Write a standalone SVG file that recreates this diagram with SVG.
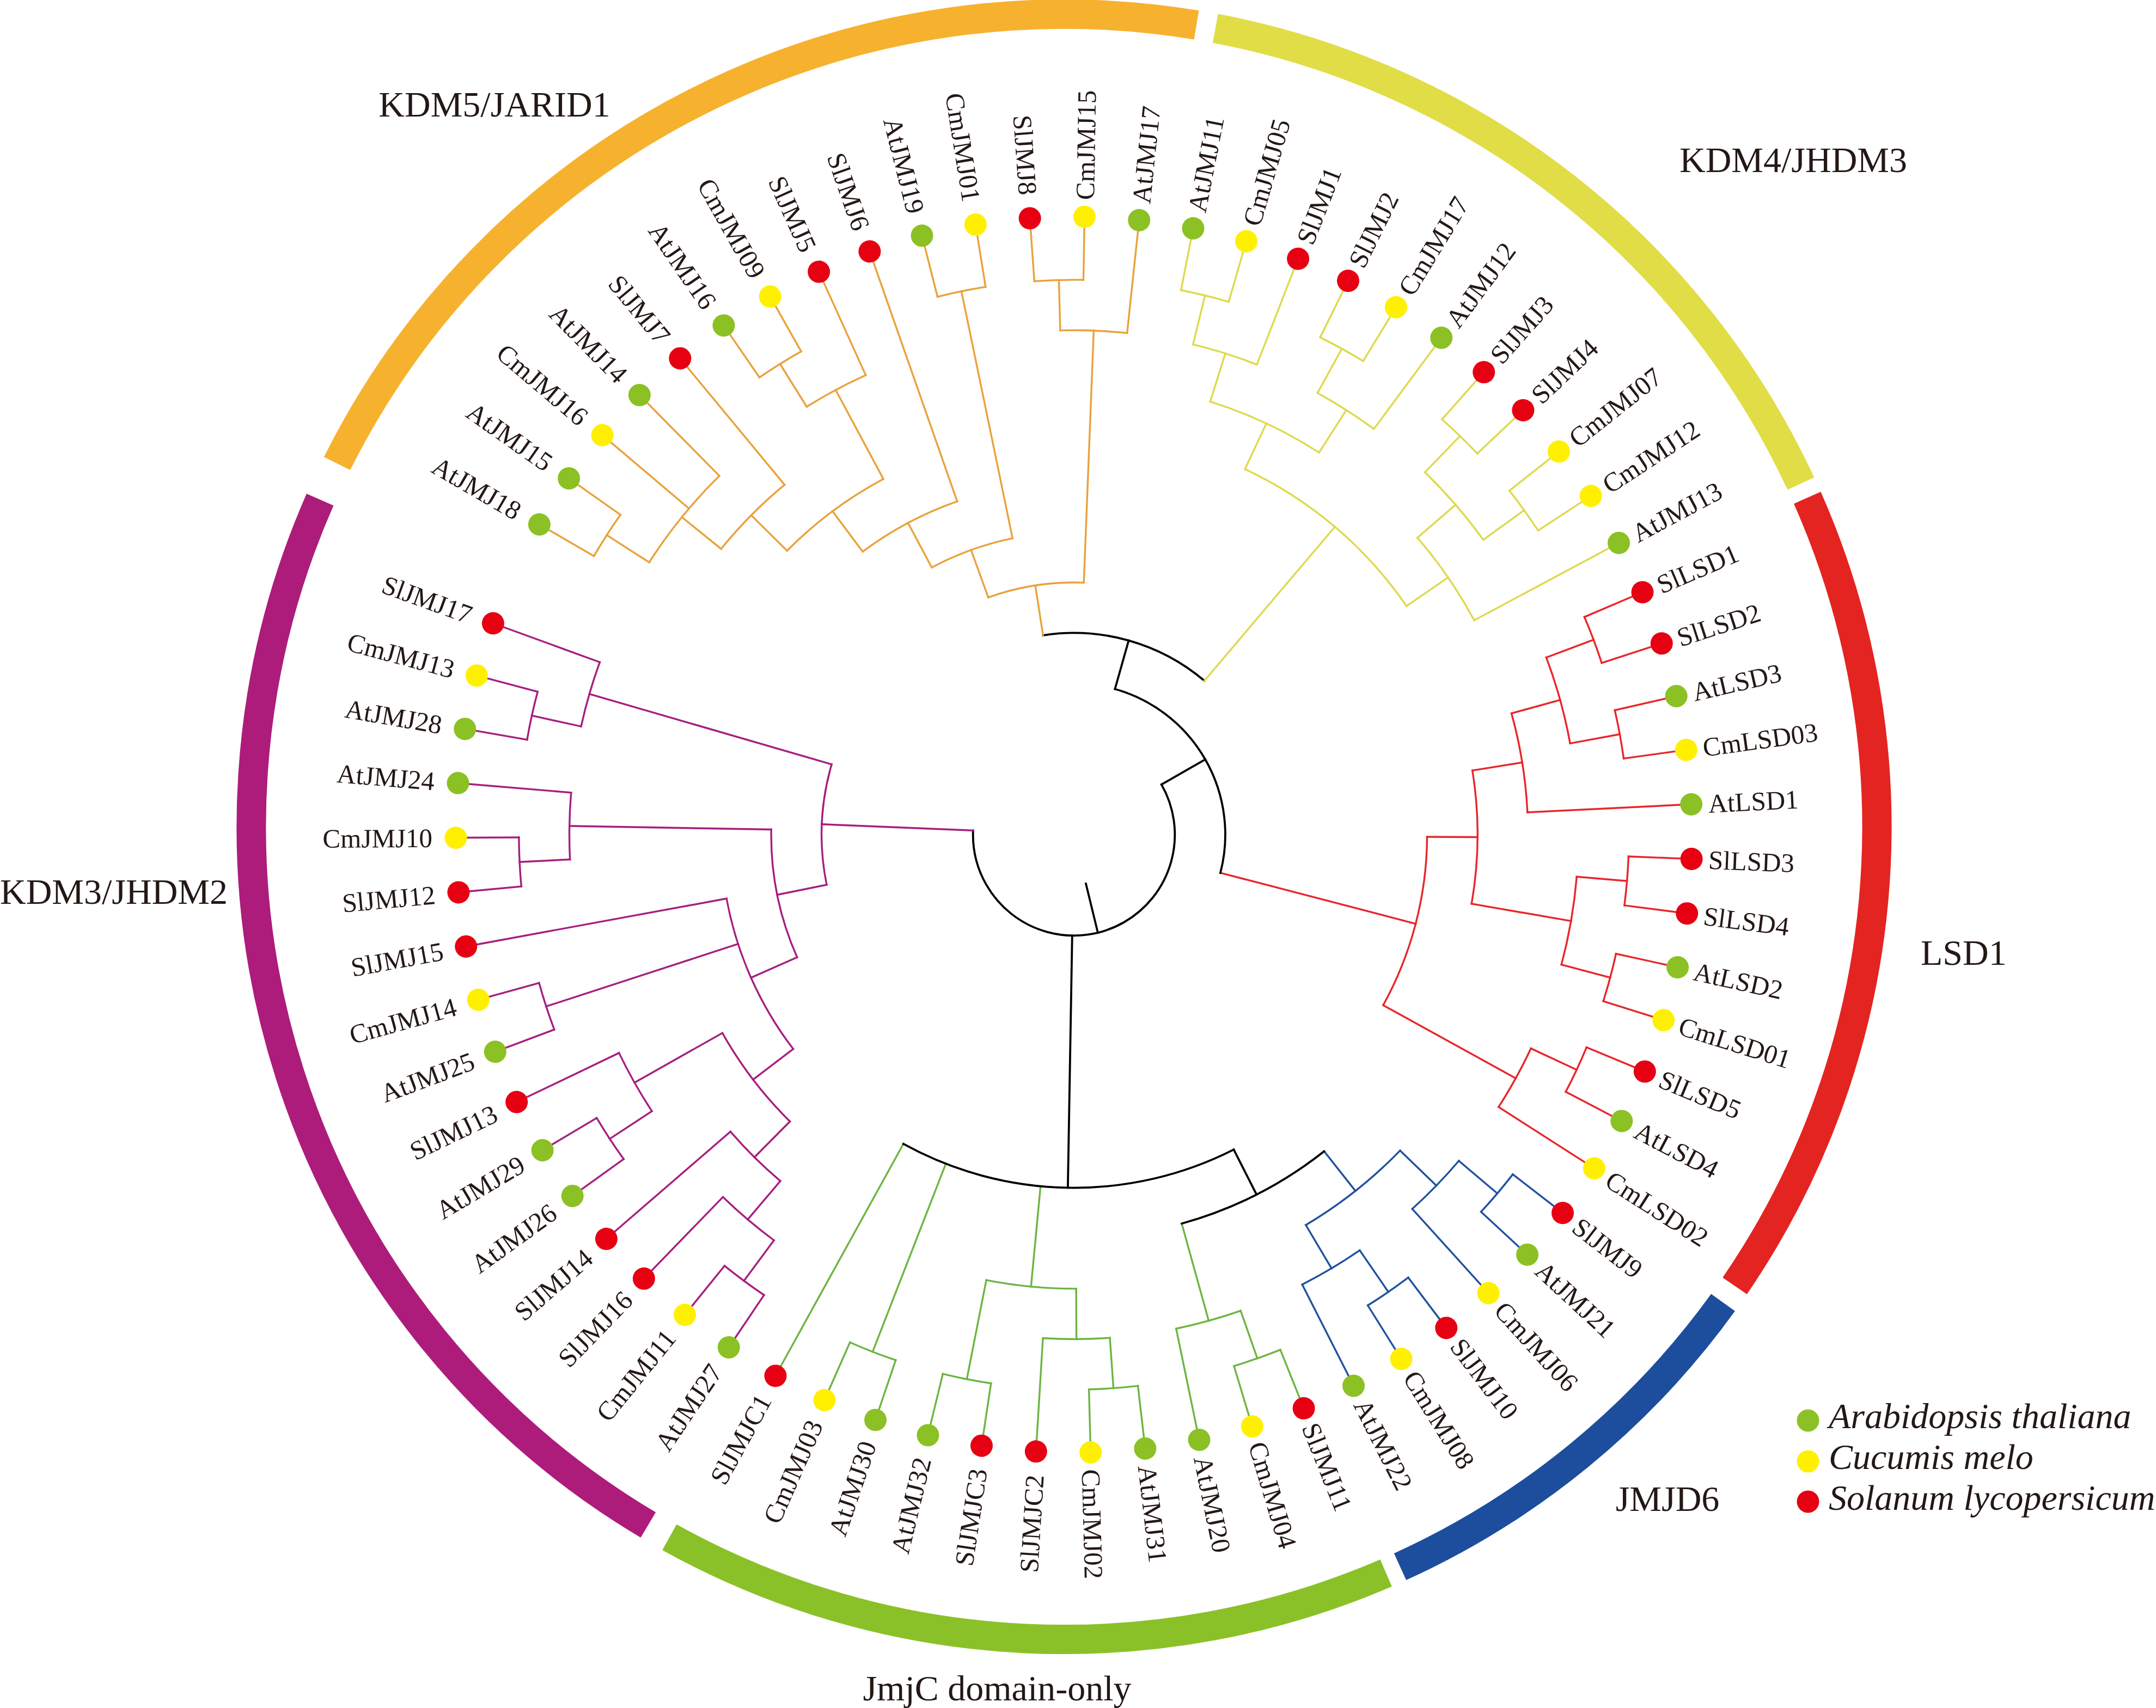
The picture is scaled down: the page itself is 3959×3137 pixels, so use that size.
<svg xmlns="http://www.w3.org/2000/svg" width="3959" height="3137" viewBox="0 0 3959 3137">
<style>
.br{fill:none;stroke-width:3.4;stroke-linecap:square}
.k{stroke:#000;stroke-width:3.8}
.o{stroke:#E9A23B}.y{stroke:#DEDA4E}.r{stroke:#E8262B}.u{stroke:#20519F}.g{stroke:#6DB543}.p{stroke:#A61F7E}
.at{fill:#8BC124}.cm{fill:#FFF000}.sl{fill:#E60012}
text{font-family:"Liberation Serif","Times New Roman",serif;fill:#231815}
.lr,.ll{font-size:49px}
.ll{text-anchor:end}
.rg{fill:none;stroke-width:54}
.t{font-size:66px}
.lg{font-size:66px;font-style:italic}
</style>
<rect width="3959" height="3137" fill="#fff"/>
<g id="ring">
<path class="rg" stroke="#E42421" d="M3318.7 914.2A1492.5 1492.5 0 0 1 3185.5 2361.7"/>
<path class="rg" stroke="#1D4D9D" d="M3164 2392.3A1492.5 1492.5 0 0 1 2571 2877.5"/>
<path class="rg" stroke="#8BC128" d="M2545.1 2889A1492.5 1492.5 0 0 1 1229.3 2823.3"/>
<path class="rg" stroke="#AD1C7B" d="M1190.3 2800.8A1492.5 1492.5 0 0 1 587.7 917.6"/>
<path class="rg" stroke="#F6B22E" d="M619 851.2A1492.5 1492.5 0 0 1 2197 45.9"/>
<path class="rg" stroke="#E1DD46" d="M2231.8 52.1A1492.5 1492.5 0 0 1 3306.9 888.2"/>
</g>
<g id="group-labels">
<text class="t" x="908" y="214" text-anchor="middle">KDM5/JARID1</text>
<text class="t" x="3293" y="316" text-anchor="middle">KDM4/JHDM3</text>
<text class="t" x="3527" y="1772">LSD1</text>
<text class="t" x="3062" y="2775" text-anchor="middle">JMJD6</text>
<text class="t" x="1831" y="3123" text-anchor="middle">JmjC domain-only</text>
<text class="t" x="0" y="1660">KDM3/JHDM2</text>
</g>
<g transform="translate(1972 1533) rotate(-23.1)">
<g id="connectors">
<g class="br r">
<circle r="1019.15" pathLength="360" stroke-dasharray="5.07 400"/>
<circle r="1019.15" pathLength="360" stroke-dasharray="5.07 400" transform="rotate(10.141)"/>
<circle r="926.5" pathLength="360" stroke-dasharray="10.141 400" transform="rotate(2.535)"/>
<circle r="833.85" pathLength="360" stroke-dasharray="12.676 400" transform="rotate(7.606)"/>
<circle r="1019.15" pathLength="360" stroke-dasharray="5.07 400" transform="rotate(25.352)"/>
<circle r="1019.15" pathLength="360" stroke-dasharray="5.07 400" transform="rotate(35.493)"/>
<circle r="926.5" pathLength="360" stroke-dasharray="10.141 400" transform="rotate(27.887)"/>
<circle r="741.2" pathLength="360" stroke-dasharray="19.014 400" transform="rotate(13.944)"/>
<circle r="1019.15" pathLength="360" stroke-dasharray="5.07 400" transform="rotate(45.634)"/>
<circle r="926.5" pathLength="360" stroke-dasharray="7.605 400" transform="rotate(48.169)"/>
<circle r="648.55" pathLength="360" stroke-dasharray="28.521 400" transform="rotate(23.451)"/>
<line x1="1019.15" x2="1116"/>
<line x1="1019.15" x2="1116" transform="rotate(5.070)"/>
<line x1="1019.15" x2="1116" transform="rotate(10.141)"/>
<line x1="1019.15" x2="1116" transform="rotate(15.211)"/>
<line x1="926.5" x2="1019.15" transform="rotate(2.535)"/>
<line x1="926.5" x2="1019.15" transform="rotate(12.676)"/>
<line x1="833.85" x2="926.5" transform="rotate(7.606)"/>
<line x1="833.85" x2="1116" transform="rotate(20.282)"/>
<line x1="741.2" x2="833.85" transform="rotate(13.944)"/>
<line x1="1019.15" x2="1116" transform="rotate(25.352)"/>
<line x1="1019.15" x2="1116" transform="rotate(30.422)"/>
<line x1="1019.15" x2="1116" transform="rotate(35.493)"/>
<line x1="1019.15" x2="1116" transform="rotate(40.563)"/>
<line x1="926.5" x2="1019.15" transform="rotate(27.887)"/>
<line x1="926.5" x2="1019.15" transform="rotate(38.028)"/>
<line x1="741.2" x2="926.5" transform="rotate(32.958)"/>
<line x1="648.55" x2="741.2" transform="rotate(23.451)"/>
<line x1="1019.15" x2="1116" transform="rotate(45.634)"/>
<line x1="1019.15" x2="1116" transform="rotate(50.704)"/>
<line x1="926.5" x2="1019.15" transform="rotate(48.169)"/>
<line x1="926.5" x2="1116" transform="rotate(55.774)"/>
<line x1="648.55" x2="926.5" transform="rotate(51.972)"/>
<line x1="277.95" x2="648.55" transform="rotate(37.711)"/>
</g>
<g class="br u">
<circle r="1019.15" pathLength="360" stroke-dasharray="5.07 400" transform="rotate(60.845)"/>
<circle r="926.5" pathLength="360" stroke-dasharray="7.606 400" transform="rotate(63.380)"/>
<circle r="1019.15" pathLength="360" stroke-dasharray="5.07 400" transform="rotate(76.056)"/>
<circle r="926.5" pathLength="360" stroke-dasharray="7.606 400" transform="rotate(78.591)"/>
<circle r="833.85" pathLength="360" stroke-dasharray="15.211 400" transform="rotate(67.183)"/>
<line x1="1019.15" x2="1116" transform="rotate(60.845)"/>
<line x1="1019.15" x2="1116" transform="rotate(65.915)"/>
<line x1="926.5" x2="1019.15" transform="rotate(63.380)"/>
<line x1="926.5" x2="1116" transform="rotate(70.986)"/>
<line x1="1019.15" x2="1116" transform="rotate(76.056)"/>
<line x1="1019.15" x2="1116" transform="rotate(81.126)"/>
<line x1="926.5" x2="1019.15" transform="rotate(78.591)"/>
<line x1="926.5" x2="1116" transform="rotate(86.197)"/>
<line x1="833.85" x2="926.5" transform="rotate(67.183)"/>
<line x1="833.85" x2="926.5" transform="rotate(82.394)"/>
<line x1="741.2" x2="833.85" transform="rotate(74.788)"/>
</g>
<g class="br g">
<circle r="1019.15" pathLength="360" stroke-dasharray="5.071 400" transform="rotate(91.267)"/>
<circle r="926.5" pathLength="360" stroke-dasharray="7.606 400" transform="rotate(93.802)"/>
<circle r="1019.15" pathLength="360" stroke-dasharray="5.071 400" transform="rotate(106.478)"/>
<circle r="926.5" pathLength="360" stroke-dasharray="7.605 400" transform="rotate(109.014)"/>
<circle r="1019.15" pathLength="360" stroke-dasharray="5.07 400" transform="rotate(121.690)"/>
<circle r="833.85" pathLength="360" stroke-dasharray="11.409 400" transform="rotate(112.816)"/>
<circle r="1019.15" pathLength="360" stroke-dasharray="5.071 400" transform="rotate(131.830)"/>
<line x1="1019.15" x2="1116" transform="rotate(91.267)"/>
<line x1="1019.15" x2="1116" transform="rotate(96.338)"/>
<line x1="926.5" x2="1019.15" transform="rotate(93.802)"/>
<line x1="926.5" x2="1116" transform="rotate(101.408)"/>
<line x1="741.2" x2="926.5" transform="rotate(97.605)"/>
<line x1="1019.15" x2="1116" transform="rotate(106.478)"/>
<line x1="1019.15" x2="1116" transform="rotate(111.549)"/>
<line x1="926.5" x2="1019.15" transform="rotate(109.014)"/>
<line x1="926.5" x2="1116" transform="rotate(116.619)"/>
<line x1="1019.15" x2="1116" transform="rotate(121.690)"/>
<line x1="1019.15" x2="1116" transform="rotate(126.760)"/>
<line x1="833.85" x2="926.5" transform="rotate(112.816)"/>
<line x1="833.85" x2="1019.15" transform="rotate(124.225)"/>
<line x1="648.55" x2="833.85" transform="rotate(118.521)"/>
<line x1="1019.15" x2="1116" transform="rotate(131.830)"/>
<line x1="1019.15" x2="1116" transform="rotate(136.901)"/>
<line x1="648.55" x2="1019.15" transform="rotate(134.366)"/>
<line x1="648.55" x2="1116" transform="rotate(141.971)"/>
</g>
<g class="br k">
<circle r="741.2" pathLength="360" stroke-dasharray="22.817 400" transform="rotate(74.788)"/>
<circle r="648.55" pathLength="360" stroke-dasharray="55.774 400" transform="rotate(86.197)"/>
<circle r="370.6" pathLength="360" stroke-dasharray="49.08 400" transform="rotate(284.299)"/>
<circle r="277.95" pathLength="360" stroke-dasharray="88.873 400" transform="rotate(308.838)"/>
<circle r="185.3" pathLength="360" stroke-dasharray="212.196 400" transform="rotate(353.275)"/>
<line x1="648.55" x2="741.2" transform="rotate(86.197)"/>
<line x1="185.3" x2="648.55" transform="rotate(114.084)"/>
<line x1="277.95" x2="370.6" transform="rotate(308.838)"/>
<line x1="185.3" x2="277.95" transform="rotate(353.275)"/>
<line x1="92.65" x2="185.3" transform="rotate(99.374)"/>
</g>
<g class="br p">
<circle r="1019.15" pathLength="360" stroke-dasharray="5.07 400" transform="rotate(147.042)"/>
<circle r="926.5" pathLength="360" stroke-dasharray="7.605 400" transform="rotate(149.577)"/>
<circle r="833.85" pathLength="360" stroke-dasharray="8.873 400" transform="rotate(153.380)"/>
<circle r="1019.15" pathLength="360" stroke-dasharray="5.071 400" transform="rotate(167.323)"/>
<circle r="926.5" pathLength="360" stroke-dasharray="7.605 400" transform="rotate(169.859)"/>
<circle r="741.2" pathLength="360" stroke-dasharray="15.845 400" transform="rotate(157.817)"/>
<circle r="1019.15" pathLength="360" stroke-dasharray="5.071 400" transform="rotate(182.534)"/>
<circle r="648.55" pathLength="360" stroke-dasharray="26.936 400" transform="rotate(165.739)"/>
<circle r="1019.15" pathLength="360" stroke-dasharray="5.07 400" transform="rotate(197.746)"/>
<circle r="926.5" pathLength="360" stroke-dasharray="7.605 400" transform="rotate(200.281)"/>
<circle r="555.9" pathLength="360" stroke-dasharray="24.877 400" transform="rotate(179.207)"/>
<circle r="1019.15" pathLength="360" stroke-dasharray="5.07 400" transform="rotate(212.957)"/>
<circle r="926.5" pathLength="360" stroke-dasharray="7.606 400" transform="rotate(215.492)"/>
<circle r="463.25" pathLength="360" stroke-dasharray="27.649 400" transform="rotate(191.646)"/>
<line x1="1019.15" x2="1116" transform="rotate(147.042)"/>
<line x1="1019.15" x2="1116" transform="rotate(152.112)"/>
<line x1="926.5" x2="1019.15" transform="rotate(149.577)"/>
<line x1="926.5" x2="1116" transform="rotate(157.182)"/>
<line x1="833.85" x2="926.5" transform="rotate(153.380)"/>
<line x1="833.85" x2="1116" transform="rotate(162.253)"/>
<line x1="741.2" x2="833.85" transform="rotate(157.817)"/>
<line x1="1019.15" x2="1116" transform="rotate(167.323)"/>
<line x1="1019.15" x2="1116" transform="rotate(172.394)"/>
<line x1="926.5" x2="1019.15" transform="rotate(169.859)"/>
<line x1="926.5" x2="1116" transform="rotate(177.464)"/>
<line x1="741.2" x2="926.5" transform="rotate(173.662)"/>
<line x1="648.55" x2="741.2" transform="rotate(165.739)"/>
<line x1="1019.15" x2="1116" transform="rotate(182.534)"/>
<line x1="1019.15" x2="1116" transform="rotate(187.605)"/>
<line x1="648.55" x2="1019.15" transform="rotate(185.070)"/>
<line x1="648.55" x2="1116" transform="rotate(192.675)"/>
<line x1="555.9" x2="648.55" transform="rotate(179.207)"/>
<line x1="1019.15" x2="1116" transform="rotate(197.746)"/>
<line x1="1019.15" x2="1116" transform="rotate(202.816)"/>
<line x1="926.5" x2="1019.15" transform="rotate(200.281)"/>
<line x1="926.5" x2="1116" transform="rotate(207.886)"/>
<line x1="555.9" x2="926.5" transform="rotate(204.084)"/>
<line x1="463.25" x2="555.9" transform="rotate(191.646)"/>
<line x1="1019.15" x2="1116" transform="rotate(212.957)"/>
<line x1="1019.15" x2="1116" transform="rotate(218.027)"/>
<line x1="926.5" x2="1019.15" transform="rotate(215.492)"/>
<line x1="926.5" x2="1116" transform="rotate(223.098)"/>
<line x1="463.25" x2="926.5" transform="rotate(219.295)"/>
<line x1="185.3" x2="463.25" transform="rotate(205.471)"/>
</g>
<g class="br o">
<circle r="1019.15" pathLength="360" stroke-dasharray="5.071 400" transform="rotate(233.238)"/>
<circle r="926.5" pathLength="360" stroke-dasharray="12.676 400" transform="rotate(235.774)"/>
<circle r="833.85" pathLength="360" stroke-dasharray="11.408 400" transform="rotate(242.112)"/>
<circle r="1019.15" pathLength="360" stroke-dasharray="5.071 400" transform="rotate(258.590)"/>
<circle r="926.5" pathLength="360" stroke-dasharray="7.605 400" transform="rotate(261.126)"/>
<circle r="741.2" pathLength="360" stroke-dasharray="17.112 400" transform="rotate(247.816)"/>
<circle r="648.55" pathLength="360" stroke-dasharray="17.431 400" transform="rotate(256.371)"/>
<circle r="1019.15" pathLength="360" stroke-dasharray="5.07 400" transform="rotate(278.872)"/>
<circle r="555.9" pathLength="360" stroke-dasharray="16.32 400" transform="rotate(265.087)"/>
<circle r="1019.15" pathLength="360" stroke-dasharray="5.07 400" transform="rotate(289.013)"/>
<circle r="926.5" pathLength="360" stroke-dasharray="7.606 400" transform="rotate(291.548)"/>
<circle r="463.25" pathLength="360" stroke-dasharray="22.104 400" transform="rotate(273.247)"/>
<line x1="1019.15" x2="1116" transform="rotate(233.238)"/>
<line x1="1019.15" x2="1116" transform="rotate(238.309)"/>
<line x1="926.5" x2="1019.15" transform="rotate(235.774)"/>
<line x1="926.5" x2="1116" transform="rotate(243.379)"/>
<line x1="926.5" x2="1116" transform="rotate(248.450)"/>
<line x1="833.85" x2="926.5" transform="rotate(242.112)"/>
<line x1="833.85" x2="1116" transform="rotate(253.520)"/>
<line x1="741.2" x2="833.85" transform="rotate(247.816)"/>
<line x1="1019.15" x2="1116" transform="rotate(258.590)"/>
<line x1="1019.15" x2="1116" transform="rotate(263.661)"/>
<line x1="926.5" x2="1019.15" transform="rotate(261.126)"/>
<line x1="926.5" x2="1116" transform="rotate(268.731)"/>
<line x1="741.2" x2="926.5" transform="rotate(264.928)"/>
<line x1="648.55" x2="741.2" transform="rotate(256.371)"/>
<line x1="648.55" x2="1116" transform="rotate(273.802)"/>
<line x1="555.9" x2="648.55" transform="rotate(265.087)"/>
<line x1="1019.15" x2="1116" transform="rotate(278.872)"/>
<line x1="1019.15" x2="1116" transform="rotate(283.942)"/>
<line x1="555.9" x2="1019.15" transform="rotate(281.407)"/>
<line x1="463.25" x2="555.9" transform="rotate(273.247)"/>
<line x1="1019.15" x2="1116" transform="rotate(289.013)"/>
<line x1="1019.15" x2="1116" transform="rotate(294.083)"/>
<line x1="926.5" x2="1019.15" transform="rotate(291.548)"/>
<line x1="926.5" x2="1116" transform="rotate(299.154)"/>
<line x1="463.25" x2="926.5" transform="rotate(295.351)"/>
<line x1="370.6" x2="463.25" transform="rotate(284.299)"/>
</g>
<g class="br y">
<circle r="1019.15" pathLength="360" stroke-dasharray="5.07 400" transform="rotate(304.224)"/>
<circle r="926.5" pathLength="360" stroke-dasharray="7.606 400" transform="rotate(306.759)"/>
<circle r="1019.15" pathLength="360" stroke-dasharray="5.071 400" transform="rotate(319.435)"/>
<circle r="926.5" pathLength="360" stroke-dasharray="7.606 400" transform="rotate(321.970)"/>
<circle r="833.85" pathLength="360" stroke-dasharray="15.211 400" transform="rotate(310.562)"/>
<circle r="1019.15" pathLength="360" stroke-dasharray="5.071 400" transform="rotate(334.646)"/>
<circle r="1019.15" pathLength="360" stroke-dasharray="5.071 400" transform="rotate(344.787)"/>
<circle r="926.5" pathLength="360" stroke-dasharray="10.14 400" transform="rotate(337.182)"/>
<circle r="833.85" pathLength="360" stroke-dasharray="12.676 400" transform="rotate(342.252)"/>
<circle r="741.2" pathLength="360" stroke-dasharray="30.422 400" transform="rotate(318.168)"/>
<line x1="1019.15" x2="1116" transform="rotate(304.224)"/>
<line x1="1019.15" x2="1116" transform="rotate(309.294)"/>
<line x1="926.5" x2="1019.15" transform="rotate(306.759)"/>
<line x1="926.5" x2="1116" transform="rotate(314.365)"/>
<line x1="1019.15" x2="1116" transform="rotate(319.435)"/>
<line x1="1019.15" x2="1116" transform="rotate(324.506)"/>
<line x1="926.5" x2="1019.15" transform="rotate(321.970)"/>
<line x1="926.5" x2="1116" transform="rotate(329.576)"/>
<line x1="833.85" x2="926.5" transform="rotate(310.562)"/>
<line x1="833.85" x2="926.5" transform="rotate(325.773)"/>
<line x1="741.2" x2="833.85" transform="rotate(318.168)"/>
<line x1="1019.15" x2="1116" transform="rotate(334.646)"/>
<line x1="1019.15" x2="1116" transform="rotate(339.717)"/>
<line x1="1019.15" x2="1116" transform="rotate(344.787)"/>
<line x1="1019.15" x2="1116" transform="rotate(349.858)"/>
<line x1="926.5" x2="1019.15" transform="rotate(337.182)"/>
<line x1="926.5" x2="1019.15" transform="rotate(347.322)"/>
<line x1="833.85" x2="926.5" transform="rotate(342.252)"/>
<line x1="833.85" x2="1116" transform="rotate(354.928)"/>
<line x1="741.2" x2="833.85" transform="rotate(348.590)"/>
<line x1="370.6" x2="741.2" transform="rotate(333.379)"/>
</g>
</g>
<g id="leaves">
<g id="n-SlLSD1"><circle class="sl" cx="1135" r="20.5"/><text class="lr" x="1166" y="17">SlLSD1</text></g>
<g id="n-SlLSD2" transform="rotate(5.070)"><circle class="sl" cx="1135" r="20.5"/><text class="lr" x="1166" y="17">SlLSD2</text></g>
<g id="n-AtLSD3" transform="rotate(10.141)"><circle class="at" cx="1135" r="20.5"/><text class="lr" x="1166" y="17">AtLSD3</text></g>
<g id="n-CmLSD03" transform="rotate(15.211)"><circle class="cm" cx="1135" r="20.5"/><text class="lr" x="1166" y="17">CmLSD03</text></g>
<g id="n-AtLSD1" transform="rotate(20.282)"><circle class="at" cx="1135" r="20.5"/><text class="lr" x="1166" y="17">AtLSD1</text></g>
<g id="n-SlLSD3" transform="rotate(25.352)"><circle class="sl" cx="1135" r="20.5"/><text class="lr" x="1166" y="17">SlLSD3</text></g>
<g id="n-SlLSD4" transform="rotate(30.422)"><circle class="sl" cx="1135" r="20.5"/><text class="lr" x="1166" y="17">SlLSD4</text></g>
<g id="n-AtLSD2" transform="rotate(35.493)"><circle class="at" cx="1135" r="20.5"/><text class="lr" x="1166" y="17">AtLSD2</text></g>
<g id="n-CmLSD01" transform="rotate(40.563)"><circle class="cm" cx="1135" r="20.5"/><text class="lr" x="1166" y="17">CmLSD01</text></g>
<g id="n-SlLSD5" transform="rotate(45.634)"><circle class="sl" cx="1135" r="20.5"/><text class="lr" x="1166" y="17">SlLSD5</text></g>
<g id="n-AtLSD4" transform="rotate(50.704)"><circle class="at" cx="1135" r="20.5"/><text class="lr" x="1166" y="17">AtLSD4</text></g>
<g id="n-CmLSD02" transform="rotate(55.774)"><circle class="cm" cx="1135" r="20.5"/><text class="lr" x="1166" y="17">CmLSD02</text></g>
<g id="n-SlJMJ9" transform="rotate(60.845)"><circle class="sl" cx="1135" r="20.5"/><text class="lr" x="1166" y="17">SlJMJ9</text></g>
<g id="n-AtJMJ21" transform="rotate(65.915)"><circle class="at" cx="1135" r="20.5"/><text class="lr" x="1166" y="17">AtJMJ21</text></g>
<g id="n-CmJMJ06" transform="rotate(70.986)"><circle class="cm" cx="1135" r="20.5"/><text class="lr" x="1166" y="17">CmJMJ06</text></g>
<g id="n-SlJMJ10" transform="rotate(76.056)"><circle class="sl" cx="1135" r="20.5"/><text class="lr" x="1166" y="17">SlJMJ10</text></g>
<g id="n-CmJMJ08" transform="rotate(81.126)"><circle class="cm" cx="1135" r="20.5"/><text class="lr" x="1166" y="17">CmJMJ08</text></g>
<g id="n-AtJMJ22" transform="rotate(86.197)"><circle class="at" cx="1135" r="20.5"/><text class="lr" x="1166" y="17">AtJMJ22</text></g>
<g id="n-SlJMJ11" transform="rotate(91.267)"><circle class="sl" cx="1135" r="20.5"/><text class="lr" x="1166" y="17">SlJMJ11</text></g>
<g id="n-CmJMJ04" transform="rotate(96.338)"><circle class="cm" cx="1135" r="20.5"/><text class="lr" x="1166" y="17">CmJMJ04</text></g>
<g id="n-AtJMJ20" transform="rotate(101.408)"><circle class="at" cx="1135" r="20.5"/><text class="lr" x="1166" y="17">AtJMJ20</text></g>
<g id="n-AtJMJ31" transform="rotate(106.478)"><circle class="at" cx="1135" r="20.5"/><text class="lr" x="1166" y="17">AtJMJ31</text></g>
<g id="n-CmJMJ02" transform="rotate(111.549)"><circle class="cm" cx="1135" r="20.5"/><text class="lr" x="1166" y="17">CmJMJ02</text></g>
<g id="n-SlJMJC2" transform="rotate(116.619)"><circle class="sl" cx="1135" r="20.5"/><text class="ll" transform="rotate(180)" x="-1178" y="17">SlJMJC2</text></g>
<g id="n-SlJMJC3" transform="rotate(121.690)"><circle class="sl" cx="1135" r="20.5"/><text class="ll" transform="rotate(180)" x="-1178" y="17">SlJMJC3</text></g>
<g id="n-AtJMJ32" transform="rotate(126.760)"><circle class="at" cx="1135" r="20.5"/><text class="ll" transform="rotate(180)" x="-1178" y="17">AtJMJ32</text></g>
<g id="n-AtJMJ30" transform="rotate(131.830)"><circle class="at" cx="1135" r="20.5"/><text class="ll" transform="rotate(180)" x="-1178" y="17">AtJMJ30</text></g>
<g id="n-CmJMJ03" transform="rotate(136.901)"><circle class="cm" cx="1135" r="20.5"/><text class="ll" transform="rotate(180)" x="-1178" y="17">CmJMJ03</text></g>
<g id="n-SlJMJC1" transform="rotate(141.971)"><circle class="sl" cx="1135" r="20.5"/><text class="ll" transform="rotate(180)" x="-1178" y="17">SlJMJC1</text></g>
<g id="n-AtJMJ27" transform="rotate(147.042)"><circle class="at" cx="1135" r="20.5"/><text class="ll" transform="rotate(180)" x="-1178" y="17">AtJMJ27</text></g>
<g id="n-CmJMJ11" transform="rotate(152.112)"><circle class="cm" cx="1135" r="20.5"/><text class="ll" transform="rotate(180)" x="-1178" y="17">CmJMJ11</text></g>
<g id="n-SlJMJ16" transform="rotate(157.182)"><circle class="sl" cx="1135" r="20.5"/><text class="ll" transform="rotate(180)" x="-1178" y="17">SlJMJ16</text></g>
<g id="n-SlJMJ14" transform="rotate(162.253)"><circle class="sl" cx="1135" r="20.5"/><text class="ll" transform="rotate(180)" x="-1178" y="17">SlJMJ14</text></g>
<g id="n-AtJMJ26" transform="rotate(167.323)"><circle class="at" cx="1135" r="20.5"/><text class="ll" transform="rotate(180)" x="-1178" y="17">AtJMJ26</text></g>
<g id="n-AtJMJ29" transform="rotate(172.394)"><circle class="at" cx="1135" r="20.5"/><text class="ll" transform="rotate(180)" x="-1178" y="17">AtJMJ29</text></g>
<g id="n-SlJMJ13" transform="rotate(177.464)"><circle class="sl" cx="1135" r="20.5"/><text class="ll" transform="rotate(180)" x="-1178" y="17">SlJMJ13</text></g>
<g id="n-AtJMJ25" transform="rotate(182.534)"><circle class="at" cx="1135" r="20.5"/><text class="ll" transform="rotate(180)" x="-1178" y="17">AtJMJ25</text></g>
<g id="n-CmJMJ14" transform="rotate(187.605)"><circle class="cm" cx="1135" r="20.5"/><text class="ll" transform="rotate(180)" x="-1178" y="17">CmJMJ14</text></g>
<g id="n-SlJMJ15" transform="rotate(192.675)"><circle class="sl" cx="1135" r="20.5"/><text class="ll" transform="rotate(180)" x="-1178" y="17">SlJMJ15</text></g>
<g id="n-SlJMJ12" transform="rotate(197.746)"><circle class="sl" cx="1135" r="20.5"/><text class="ll" transform="rotate(180)" x="-1178" y="17">SlJMJ12</text></g>
<g id="n-CmJMJ10" transform="rotate(202.816)"><circle class="cm" cx="1135" r="20.5"/><text class="ll" transform="rotate(180)" x="-1178" y="17">CmJMJ10</text></g>
<g id="n-AtJMJ24" transform="rotate(207.886)"><circle class="at" cx="1135" r="20.5"/><text class="ll" transform="rotate(180)" x="-1178" y="17">AtJMJ24</text></g>
<g id="n-AtJMJ28" transform="rotate(212.957)"><circle class="at" cx="1135" r="20.5"/><text class="ll" transform="rotate(180)" x="-1178" y="17">AtJMJ28</text></g>
<g id="n-CmJMJ13" transform="rotate(218.027)"><circle class="cm" cx="1135" r="20.5"/><text class="ll" transform="rotate(180)" x="-1178" y="17">CmJMJ13</text></g>
<g id="n-SlJMJ17" transform="rotate(223.098)"><circle class="sl" cx="1135" r="20.5"/><text class="ll" transform="rotate(180)" x="-1178" y="17">SlJMJ17</text></g>
<g id="n-AtJMJ18" transform="rotate(233.238)"><circle class="at" cx="1135" r="20.5"/><text class="ll" transform="rotate(180)" x="-1178" y="17">AtJMJ18</text></g>
<g id="n-AtJMJ15" transform="rotate(238.309)"><circle class="at" cx="1135" r="20.5"/><text class="ll" transform="rotate(180)" x="-1178" y="17">AtJMJ15</text></g>
<g id="n-CmJMJ16" transform="rotate(243.379)"><circle class="cm" cx="1135" r="20.5"/><text class="ll" transform="rotate(180)" x="-1178" y="17">CmJMJ16</text></g>
<g id="n-AtJMJ14" transform="rotate(248.450)"><circle class="at" cx="1135" r="20.5"/><text class="ll" transform="rotate(180)" x="-1178" y="17">AtJMJ14</text></g>
<g id="n-SlJMJ7" transform="rotate(253.520)"><circle class="sl" cx="1135" r="20.5"/><text class="ll" transform="rotate(180)" x="-1178" y="17">SlJMJ7</text></g>
<g id="n-AtJMJ16" transform="rotate(258.590)"><circle class="at" cx="1135" r="20.5"/><text class="ll" transform="rotate(180)" x="-1178" y="17">AtJMJ16</text></g>
<g id="n-CmJMJ09" transform="rotate(263.661)"><circle class="cm" cx="1135" r="20.5"/><text class="ll" transform="rotate(180)" x="-1178" y="17">CmJMJ09</text></g>
<g id="n-SlJMJ5" transform="rotate(268.731)"><circle class="sl" cx="1135" r="20.5"/><text class="ll" transform="rotate(180)" x="-1178" y="17">SlJMJ5</text></g>
<g id="n-SlJMJ6" transform="rotate(273.802)"><circle class="sl" cx="1135" r="20.5"/><text class="ll" transform="rotate(180)" x="-1178" y="17">SlJMJ6</text></g>
<g id="n-AtJMJ19" transform="rotate(278.872)"><circle class="at" cx="1135" r="20.5"/><text class="ll" transform="rotate(180)" x="-1178" y="17">AtJMJ19</text></g>
<g id="n-CmJMJ01" transform="rotate(283.942)"><circle class="cm" cx="1135" r="20.5"/><text class="ll" transform="rotate(180)" x="-1178" y="17">CmJMJ01</text></g>
<g id="n-SlJMJ8" transform="rotate(289.013)"><circle class="sl" cx="1135" r="20.5"/><text class="ll" transform="rotate(180)" x="-1178" y="17">SlJMJ8</text></g>
<g id="n-CmJMJ15" transform="rotate(294.083)"><circle class="cm" cx="1135" r="20.5"/><text class="lr" x="1166" y="17">CmJMJ15</text></g>
<g id="n-AtJMJ17" transform="rotate(299.154)"><circle class="at" cx="1135" r="20.5"/><text class="lr" x="1166" y="17">AtJMJ17</text></g>
<g id="n-AtJMJ11" transform="rotate(304.224)"><circle class="at" cx="1135" r="20.5"/><text class="lr" x="1166" y="17">AtJMJ11</text></g>
<g id="n-CmJMJ05" transform="rotate(309.294)"><circle class="cm" cx="1135" r="20.5"/><text class="lr" x="1166" y="17">CmJMJ05</text></g>
<g id="n-SlJMJ1" transform="rotate(314.365)"><circle class="sl" cx="1135" r="20.5"/><text class="lr" x="1166" y="17">SlJMJ1</text></g>
<g id="n-SlJMJ2" transform="rotate(319.435)"><circle class="sl" cx="1135" r="20.5"/><text class="lr" x="1166" y="17">SlJMJ2</text></g>
<g id="n-CmJMJ17" transform="rotate(324.506)"><circle class="cm" cx="1135" r="20.5"/><text class="lr" x="1166" y="17">CmJMJ17</text></g>
<g id="n-AtJMJ12" transform="rotate(329.576)"><circle class="at" cx="1135" r="20.5"/><text class="lr" x="1166" y="17">AtJMJ12</text></g>
<g id="n-SlJMJ3" transform="rotate(334.646)"><circle class="sl" cx="1135" r="20.5"/><text class="lr" x="1166" y="17">SlJMJ3</text></g>
<g id="n-SlJMJ4" transform="rotate(339.717)"><circle class="sl" cx="1135" r="20.5"/><text class="lr" x="1166" y="17">SlJMJ4</text></g>
<g id="n-CmJMJ07" transform="rotate(344.787)"><circle class="cm" cx="1135" r="20.5"/><text class="lr" x="1166" y="17">CmJMJ07</text></g>
<g id="n-CmJMJ12" transform="rotate(349.858)"><circle class="cm" cx="1135" r="20.5"/><text class="lr" x="1166" y="17">CmJMJ12</text></g>
<g id="n-AtJMJ13" transform="rotate(354.928)"><circle class="at" cx="1135" r="20.5"/><text class="lr" x="1166" y="17">AtJMJ13</text></g>
</g>
</g>
<g id="legend">
<g id="legend-at"><circle class="at" cx="3320" cy="2609" r="20.5"/><text class="lg" x="3358" y="2623">Arabidopsis thaliana</text></g>
<g id="legend-cm"><circle class="cm" cx="3320" cy="2684" r="20.5"/><text class="lg" x="3358" y="2698">Cucumis melo</text></g>
<g id="legend-sl"><circle class="sl" cx="3320" cy="2758" r="20.5"/><text class="lg" x="3358" y="2773">Solanum lycopersicum</text></g>
</g>
</svg>
